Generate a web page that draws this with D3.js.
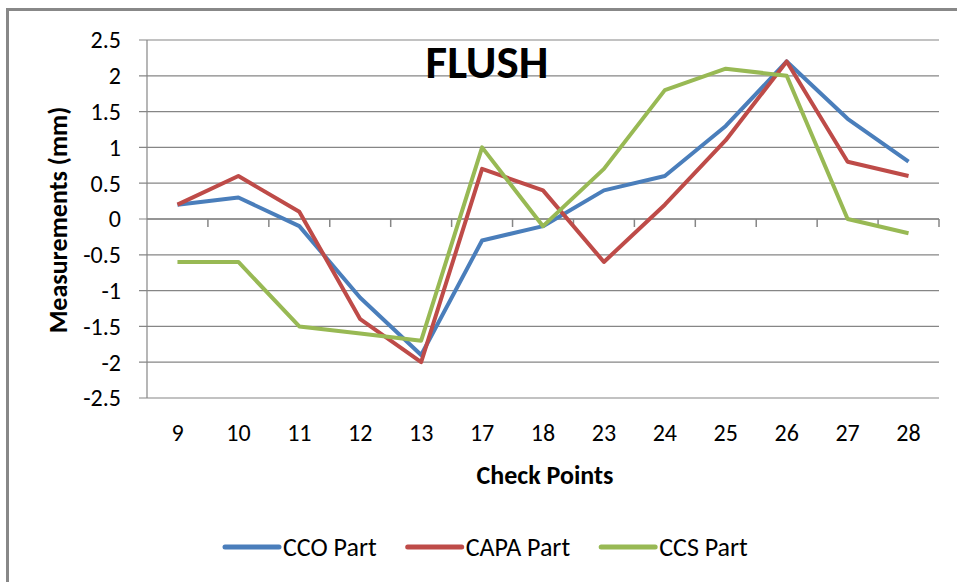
<!DOCTYPE html>
<html><head><meta charset="utf-8">
<script src="https://cdn.jsdelivr.net/npm/d3@7"></script>
<style>
html,body{margin:0;padding:0;background:#fff;}
svg{display:block;font-family:Carlito,Lato,"Open Sans",sans-serif;}
</style></head>
<body><svg id="c" width="957" height="582"></svg>
<script>
const categories = ["9","10","11","12","13","17","18","23","24","25","26","27","28"];
const ccoPart  = [0.2, 0.3, -0.1, -1.1, -1.9, -0.3, -0.1, 0.4, 0.6, 1.3, 2.2, 1.4, 0.8];
const capaPart = [0.2, 0.6, 0.1, -1.4, -2.0, 0.7, 0.4, -0.6, 0.2, 1.1, 2.2, 0.8, 0.6];
const ccsPart  = [-0.6, -0.6, -1.5, -1.6, -1.7, 1.0, -0.1, 0.7, 1.8, 2.1, 2.0, 0.0, -0.2];
const seriesNames = ["CCO Part", "CAPA Part", "CCS Part"];
const yTicks = [2.5, 2, 1.5, 1, 0.5, 0, -0.5, -1, -1.5, -2, -2.5];
const colors = ["#4A7EBB", "#BE4B48", "#98B954"];
const series = [ccoPart, capaPart, ccsPart];

const svg = d3.select("#c");
const L = 147, R = 939, T = 40, B = 398;
const grid = "#868686";

// outer border
svg.append("rect").attr("x", 7.5).attr("y", 9.5).attr("width", 970).attr("height", 590)
  .attr("fill", "#fff").attr("stroke", "#888").attr("stroke-width", 3);

const x = d3.scaleBand().domain(categories).range([L, R]).paddingInner(0).paddingOuter(0);
const y = d3.scaleLinear().domain([-2.5, 2.5]).range([B, T]);

// gridlines
svg.append("g").selectAll("line").data(yTicks).join("line")
  .attr("x1", L - 8).attr("x2", R).attr("y1", d => y(d)).attr("y2", d => y(d))
  .attr("stroke", grid).attr("stroke-width", 1.2);

// y axis line
svg.append("line").attr("x1", L).attr("x2", L).attr("y1", T).attr("y2", B)
  .attr("stroke", grid).attr("stroke-width", 1.2);

// y tick labels
svg.append("g").selectAll("text").data(yTicks).join("text")
  .attr("x", 121).attr("y", d => y(d)).attr("dy", "0.35em")
  .attr("text-anchor", "end").attr("font-size", 24).attr("fill", "#000")
  .text(d => d);

// x axis at zero with boundary ticks
const y0 = y(0);
svg.append("line").attr("x1", L).attr("x2", R).attr("y1", y0).attr("y2", y0)
  .attr("stroke", grid).attr("stroke-width", 1.5);
const bounds = categories.map(c => x(c)).concat([x(categories[categories.length - 1]) + x.bandwidth()]);
svg.append("g").selectAll("line").data(bounds.slice(1)).join("line")
  .attr("x1", d => d).attr("x2", d => d).attr("y1", y0).attr("y2", y0 + 8)
  .attr("stroke", grid).attr("stroke-width", 1.5);

// x tick labels
svg.append("g").selectAll("text").data(categories).join("text")
  .attr("x", d => x(d) + x.bandwidth() / 2).attr("y", 433).attr("dy", "0.35em")
  .attr("text-anchor", "middle").attr("font-size", 24).attr("fill", "#000")
  .text(d => d);

// lines
const line = d3.line().x((d, i) => x(categories[i]) + x.bandwidth() / 2).y(d => y(d));
series.forEach((s, k) => {
  svg.append("path").datum(s).attr("d", line).attr("fill", "none")
    .attr("stroke", colors[k]).attr("stroke-width", 4).attr("stroke-linejoin", "round");
});

// title
svg.append("text").attr("x", 487).attr("y", 62).attr("dy", "0.35em")
  .attr("text-anchor", "middle").attr("font-size", 47).attr("font-weight", "bold")
  .attr("fill", "#000").text("FLUSH");

// axis titles
svg.append("text").attr("transform", "translate(58,220) rotate(-90)").attr("dy", "0.35em")
  .attr("text-anchor", "middle").attr("font-size", 26).attr("font-weight", "bold")
  .text("Measurements (mm)");
svg.append("text").attr("x", 545).attr("y", 475).attr("dy", "0.35em")
  .attr("text-anchor", "middle").attr("font-size", 26).attr("font-weight", "bold")
  .text("Check Points");

// legend
const lg = svg.append("g");
const items = seriesNames.map((n, k) => {
  const g = lg.append("g");
  g.append("line").attr("x1", 0).attr("x2", 54).attr("y1", 0).attr("y2", 0)
    .attr("stroke", colors[k]).attr("stroke-width", 5).attr("stroke-linecap", "round");
  const t = g.append("text").attr("x", 58).attr("dy", "0.35em").attr("font-size", 26).text(n);
  return {g, w: 58 + t.node().getComputedTextLength()};
});
const gap = 31;
let cx = 225;
items.forEach(it => { it.g.attr("transform", `translate(${cx},547)`); cx += it.w + gap; });
</script></body></html>
